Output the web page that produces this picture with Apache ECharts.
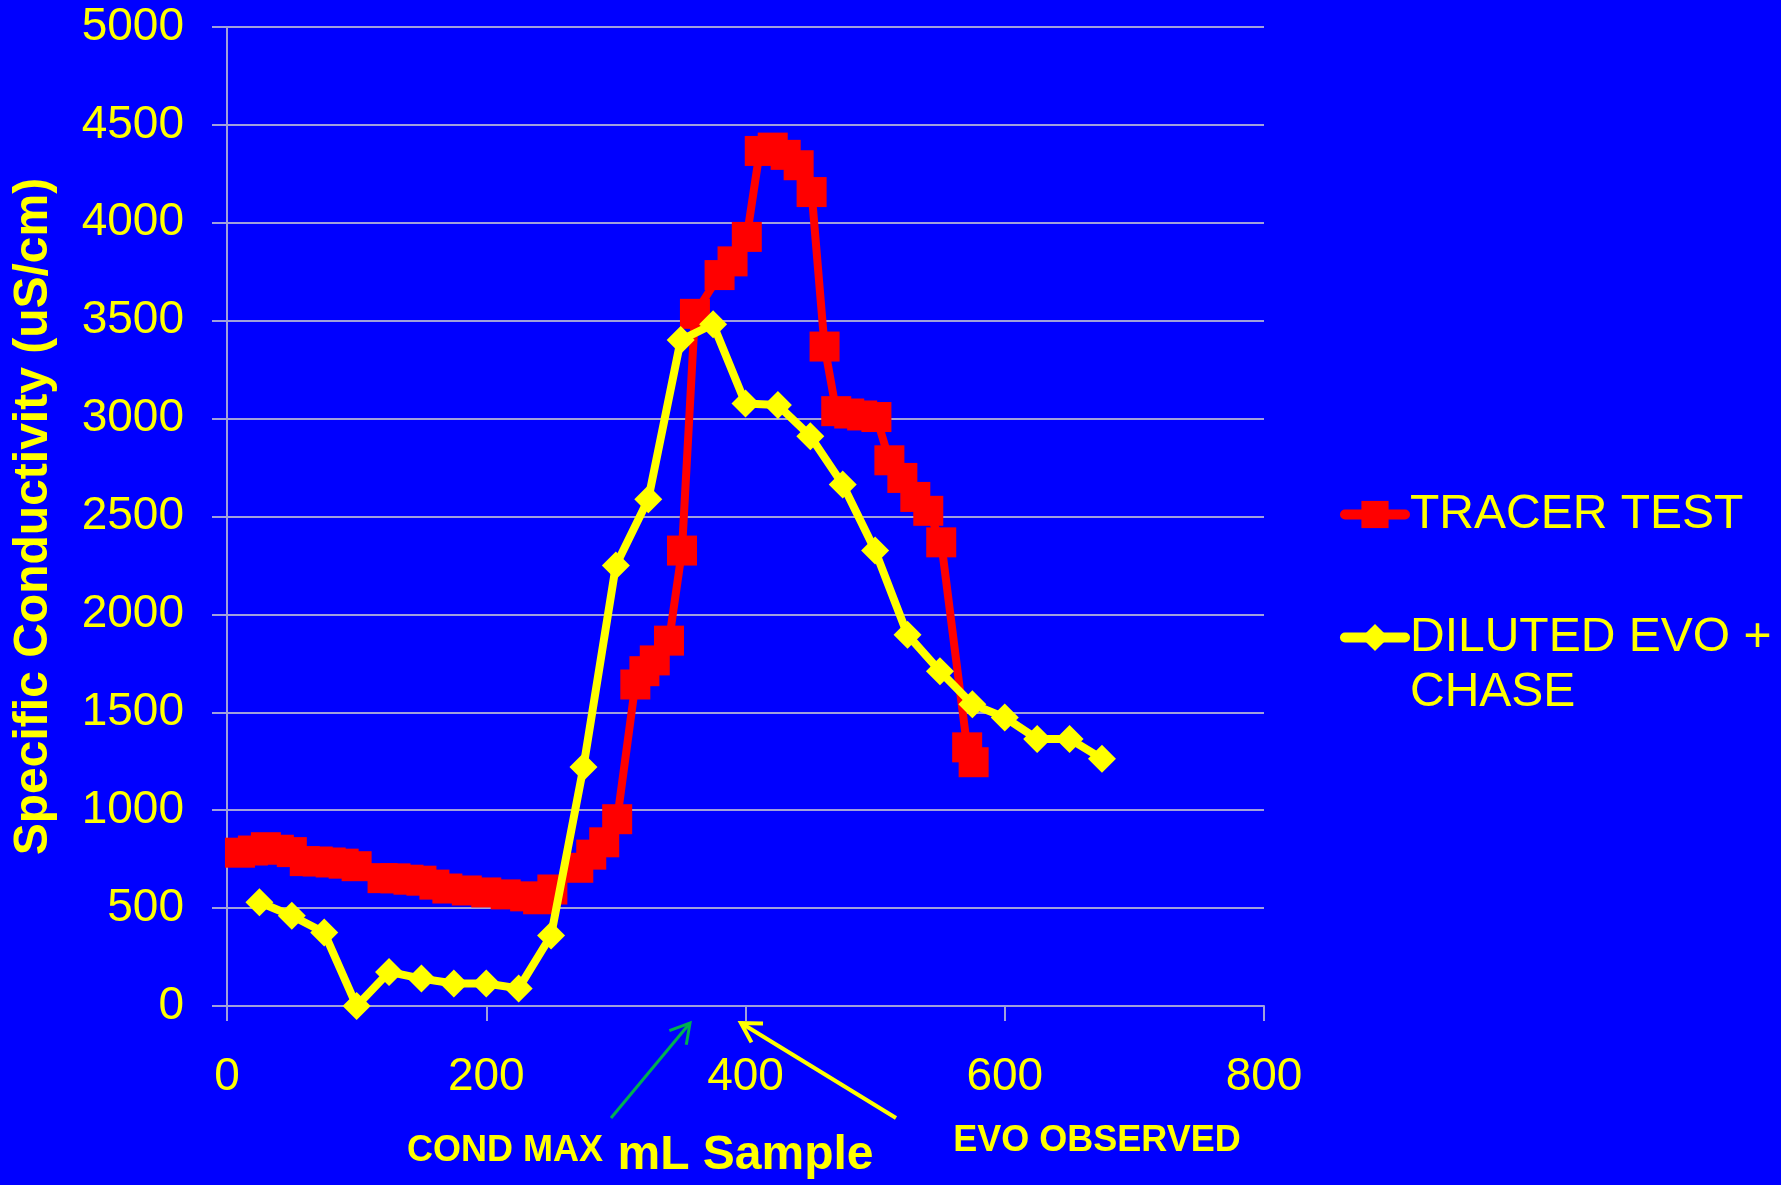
<!DOCTYPE html>
<html><head><meta charset="utf-8">
<script src="https://cdn.jsdelivr.net/npm/echarts@6/dist/echarts.min.js"></script>
<style>html,body{margin:0;padding:0;background:#0000FF;}#c{width:1781px;height:1185px;}</style>
</head><body><div id="c"></div>
<script>
// ---- data ----
const tracerName = 'TRACER TEST';
const evoName = 'DILUTED EVO +\nCHASE';
const tracerX = [10,20,30,40,50,60,70,80,90,100,120,130,140,150,160,170,185,200,215,230,240,251,271,281,291,301,315,322,330,341,351,361,380,390,401,411,421,431,441,451,461,470,480,490,501,511,521,531,541,551,571,576];
const tracerY = [783,794,811,798,786,740,738,733,727,714,653,652,645,640,620,600,590,580,570,560,545,595,706,773,836,954,1642,1710,1765,1866,2326,3535,3733,3803,3928,4367,4384,4347,4294,4157,3368,3038,3026,3016,3008,2787,2697,2600,2529,2368,1321,1245];
const evoX = [25,50,75,100,125,150,175,200,225,250,275,300,325,350,375,400,425,450,475,500,525,550,575,600,625,650,675];
const evoY = [530,461,375,0,174,140,115,115,90,360,1221,2250,2588,3401,3482,3077,3069,2910,2664,2326,1896,1710,1541,1474,1364,1364,1263];
const xTickValues = [0,200,400,600,800];
const yTickValues = [0,500,1000,1500,2000,2500,3000,3500,4000,4500,5000];

const YEL = '#FFFF00', RED = '#FF0000', GRID = '#A0A0DC';
const FONT = "'Liberation Sans', Arial, Helvetica, sans-serif";

function arrow(tail, tip, color, w) {
  const dx = tip[0] - tail[0], dy = tip[1] - tail[1];
  const L = Math.hypot(dx, dy), ux = dx / L, uy = dy / L;
  const a = 30 * Math.PI / 180, len = 22;
  const arm = s => [tip[0] - len * (ux * Math.cos(a) - s * uy * Math.sin(a)),
                    tip[1] - len * (uy * Math.cos(a) + s * ux * Math.sin(a))];
  return {
    type: 'group', children: [
      { type: 'line', shape: { x1: tail[0], y1: tail[1], x2: tip[0], y2: tip[1] }, style: { stroke: color, lineWidth: w } },
      { type: 'polyline', shape: { points: [arm(1), tip, arm(-1)] }, style: { stroke: color, lineWidth: w, fill: null } }
    ]
  };
}

const chart = echarts.init(document.getElementById('c'), null, { renderer: 'canvas' });
chart.setOption({
  backgroundColor: '#0000FF',
  animation: false,
  textStyle: { fontFamily: FONT },
  grid: { left: 227, right: 517, top: 27, bottom: 172 },
  xAxis: {
    type: 'value', min: xTickValues[0], max: xTickValues[xTickValues.length - 1], interval: 200,
    name: 'mL Sample', nameLocation: 'middle', nameGap: 126,
    nameTextStyle: { color: YEL, fontSize: 48, fontWeight: 'bold', fontFamily: FONT },
    axisLine: { show: true, lineStyle: { color: GRID, width: 2 } },
    axisTick: { show: true, length: 15, lineStyle: { color: GRID, width: 2 } },
    axisLabel: { color: YEL, fontSize: 46, margin: 48, fontFamily: FONT, formatter: v => String(v) },
    splitLine: { show: false }
  },
  yAxis: {
    type: 'value', min: yTickValues[0], max: yTickValues[yTickValues.length - 1], interval: 500,
    name: 'Specific Conductivity (uS/cm)', nameLocation: 'middle', nameGap: 169,
    nameTextStyle: { color: YEL, fontSize: 48, fontWeight: 'bold', fontFamily: FONT },
    axisLine: { show: true, lineStyle: { color: GRID, width: 2 } },
    axisTick: { show: true, length: 15, lineStyle: { color: GRID, width: 2 } },
    axisLabel: { color: YEL, fontSize: 46, margin: 43, fontFamily: FONT, formatter: v => String(v) },
    splitLine: { show: true, lineStyle: { color: GRID, width: 2 } }
  },
  legend: [
    {
      data: [tracerName], orient: 'vertical', left: 1340, top: 487, padding: 0,
      itemWidth: 60, itemHeight: 34,
      lineStyle: { width: 10, cap: 'round' },
      textStyle: { color: YEL, fontSize: 48, lineHeight: 55, fontFamily: FONT }
    },
    {
      data: [evoName], orient: 'vertical', left: 1340, top: 555, padding: 0,
      itemWidth: 60, itemHeight: 34,
      formatter: name => ' \n' + name,
      lineStyle: { width: 10, cap: 'round' },
      textStyle: { color: YEL, fontSize: 48, lineHeight: 55, fontFamily: FONT }
    }
  ],
  series: [
    {
      name: tracerName, type: 'line',
      data: tracerX.map((x, i) => [x, tracerY[i]]),
      symbol: 'rect', symbolSize: 30,
      lineStyle: { color: RED, width: 8 },
      itemStyle: { color: RED },
      z: 2
    },
    {
      name: evoName, type: 'line',
      data: evoX.map((x, i) => [x, evoY[i]]),
      symbol: 'diamond', symbolSize: 28,
      lineStyle: { color: YEL, width: 8 },
      itemStyle: { color: YEL },
      z: 3
    }
  ],
  graphic: [
    { type: 'text', x: 505, y: 1151, style: { text: 'COND MAX', fill: YEL, font: "bold 36px " + FONT, align: 'center', verticalAlign: 'middle' } },
    { type: 'text', x: 1097, y: 1141, style: { text: 'EVO OBSERVED', fill: YEL, font: "bold 36px " + FONT, align: 'center', verticalAlign: 'middle' } },
    arrow([611, 1118], [690, 1023], '#00B050', 3),
    arrow([896, 1118], [741, 1023], YEL, 4)
  ]
});
</script>
</body></html>
